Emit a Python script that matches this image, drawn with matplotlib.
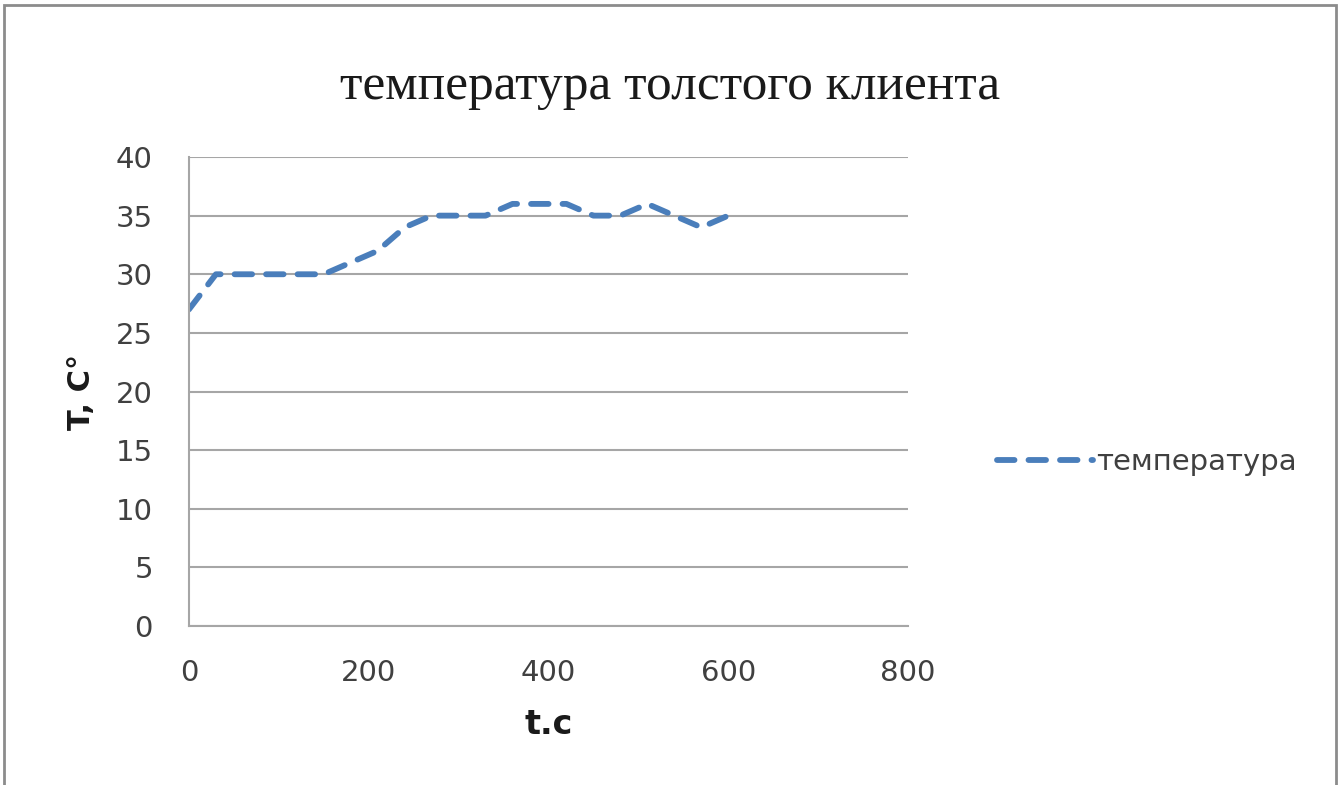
import matplotlib.pyplot as plt
from matplotlib.patches import Rectangle

# Время (с) и температура (°C)
t_sec = [0, 30, 60, 90, 120, 150, 180, 210, 240, 270, 300,
         330, 360, 390, 420, 450, 480, 510, 540, 570, 600]
temp = [27, 30, 30, 30, 30, 30, 31, 32, 34, 35, 35,
        35, 36, 36, 36, 35, 35, 36, 35, 34, 35]

x_ticks = [0, 200, 400, 600, 800]
y_ticks = [0, 5, 10, 15, 20, 25, 30, 35, 40]

sans = 'DejaVu Sans'
text_color = '#404040'
grid_color = '#a6a6a6'

fig = plt.figure(figsize=(13.41, 7.85), dpi=100)
ax = fig.add_axes([0.1409, 0.2025, 0.5362, 0.5975])

# Пунктирная линия температуры
ax.plot(t_sec, temp, color='#4a7ebb', linewidth=4.2,
        dashes=(3.0, 2.4), dash_capstyle='round', label='температура')

ax.set_xlim(0, 800)
ax.set_ylim(0, 40)
ax.set_xticks(x_ticks)
ax.set_yticks(y_ticks)
ax.yaxis.grid(True, color=grid_color, linewidth=1.5)
ax.set_axisbelow(True)
for side in ['top', 'right']:
    ax.spines[side].set_visible(False)
for side in ['left', 'bottom']:
    ax.spines[side].set_color(grid_color)
    ax.spines[side].set_linewidth(1.5)
ax.tick_params(length=0, labelsize=21, labelcolor=text_color)
ax.tick_params(axis='x', pad=24)
ax.tick_params(axis='y', pad=26)
for lbl in ax.get_xticklabels() + ax.get_yticklabels():
    lbl.set_family(sans)

ax.set_xlabel('t.c', fontsize=24, fontweight='bold', family=sans,
              color='#1a1a1a', labelpad=15)
ax.set_ylabel('T, C°', fontsize=22, fontweight='bold', family=sans,
              color='#1a1a1a', labelpad=14)

fig.text(0.5, 0.889, 'температура толстого клиента', ha='center', va='center',
         fontsize=37, family='Liberation Serif', color='#1a1a1a')

leg = fig.legend(loc='center left', bbox_to_anchor=(0.724, 0.411), frameon=False,
                 handlelength=3.3, handletextpad=0.1,
                 prop={'family': sans, 'size': 21})
for txt in leg.get_texts():
    txt.set_color(text_color)

# Рамка вокруг диаграммы
fig.patches.append(Rectangle((0.003, -0.01), 0.993, 1.004, transform=fig.transFigure,
                             fill=False, edgecolor='#8c8c8c', linewidth=2))

fig.savefig('out.png', dpi=100)
